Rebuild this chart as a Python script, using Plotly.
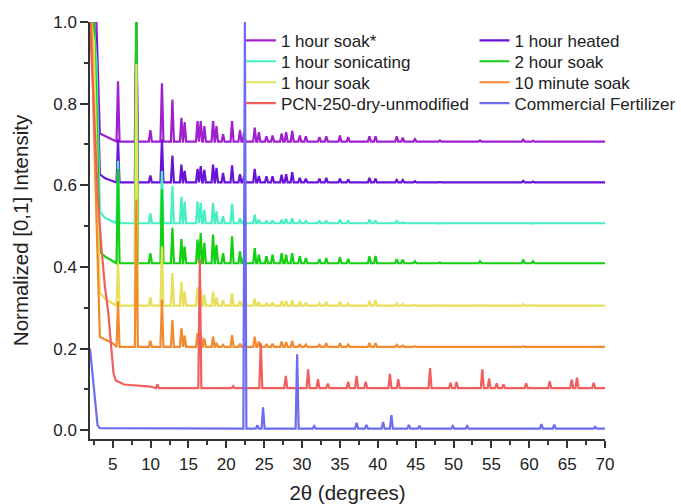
import plotly.graph_objects as go

# ---------------- data ----------------
series_names = ["1 hour soak*", "1 hour heated", "1 hour sonicating", "2 hour soak",
                "1 hour soak", "10 minute soak", "PCN-250-dry-unmodified", "Commercial Fertilizer"]
series_colors = ["#a020d0", "#6a12d8", "#46f0c4", "#12d012",
                 "#e6e05a", "#f28a30", "#f25e5e", "#6c6cf0"]

# shared 2θ positions of the MOF diffraction peaks
mof_peaks = [5.7, 8.12, 9.97, 11.5, 12.88, 14.07, 14.5, 16.2, 16.62, 17.1, 18.25, 18.7,
             19.57, 20.76, 21.8, 22.35, 23.75, 24.3, 25.3, 26.1, 27.3, 27.9, 28.7, 29.7,
             30.5, 32.3, 33.2, 35.0, 36.1, 38.9, 39.7, 42.5, 43.3, 44.9, 48.2, 53.5, 59.2, 60.5]
# low-angle fall-off points (shared 2θ)
mof_left_x = [2.0, 2.2, 2.5, 2.85, 3.3, 4.0, 5.0]

soak_star_left = [1.0, 1.0, 1.0, 1.0, 0.727, 0.72, 0.712]
soak_star_base = 0.707
soak_star_tops = [0.855, 1.0, 0.735, 0.85, 0.81, 0.765, 0.755, 0.757, 0.757, 0.745, 0.757, 0.745,
                  0.725, 0.757, 0.735, 0.73, 0.741, 0.73, 0.72, 0.722, 0.727, 0.73, 0.733, 0.722,
                  0.72, 0.718, 0.72, 0.722, 0.718, 0.72, 0.72, 0.72, 0.717, 0.713, 0.71, 0.71, 0.712, 0.709]

heated_left = [1.0, 1.0, 1.0, 0.95, 0.627, 0.617, 0.61]
heated_base = 0.607
heated_tops = [0.712, 1.0, 0.624, 0.712, 0.673, 0.651, 0.635, 0.64, 0.647, 0.638, 0.651, 0.643,
               0.63, 0.649, 0.627, 0.622, 0.64, 0.623, 0.622, 0.622, 0.626, 0.627, 0.632, 0.618,
               0.616, 0.616, 0.618, 0.616, 0.614, 0.618, 0.616, 0.613, 0.613, 0.61, 0.608, 0.607, 0.611, 0.609]

sonic_left = [1.0, 1.0, 1.0, 0.9, 0.535, 0.52, 0.512]
sonic_base = 0.507
sonic_tops = [0.66, 1.0, 0.531, 0.635, 0.598, 0.572, 0.56, 0.561, 0.557, 0.54, 0.557, 0.536,
              0.524, 0.555, 0.52, 0.516, 0.528, 0.516, 0.512, 0.514, 0.516, 0.518, 0.519, 0.513,
              0.512, 0.512, 0.514, 0.516, 0.512, 0.516, 0.514, 0.512, 0.509, 0.508, 0.506, 0.508, 0.508, 0.506]

two_hr_left = [1.0, 1.0, 1.0, 0.8, 0.437, 0.425, 0.415]
two_hr_base = 0.409
two_hr_tops = [0.64, 1.05, 0.434, 0.59, 0.496, 0.468, 0.45, 0.467, 0.483, 0.459, 0.479, 0.454,
               0.434, 0.475, 0.438, 0.426, 0.446, 0.43, 0.426, 0.43, 0.434, 0.43, 0.434, 0.426,
               0.422, 0.419, 0.422, 0.424, 0.42, 0.426, 0.427, 0.419, 0.418, 0.414, 0.411, 0.414, 0.418, 0.414]

one_hr_left = [1.0, 1.0, 0.95, 0.7, 0.336, 0.322, 0.312]
one_hr_base = 0.305
one_hr_tops = [0.41, 0.897, 0.326, 0.45, 0.385, 0.364, 0.34, 0.35, 0.345, 0.332, 0.34, 0.325,
               0.318, 0.336, 0.316, 0.313, 0.322, 0.314, 0.312, 0.313, 0.316, 0.317, 0.318, 0.315,
               0.312, 0.311, 0.315, 0.315, 0.311, 0.317, 0.318, 0.311, 0.309, 0.307, 0.307, 0.307, 0.309, 0.307]

ten_min_left = [1.0, 1.0, 0.75, 0.5, 0.229, 0.222, 0.213]
ten_min_base = 0.204
ten_min_tops = [0.315, 0.565, 0.219, 0.32, 0.27, 0.25, 0.232, 0.238, 0.238, 0.225, 0.229, 0.214,
                0.209, 0.233, 0.212, 0.21, 0.229, 0.217, 0.211, 0.212, 0.217, 0.216, 0.219, 0.211,
                0.21, 0.209, 0.213, 0.213, 0.21, 0.214, 0.213, 0.209, 0.207, 0.206, 0.205, 0.205, 0.206, 0.205]

pcn_left_x = [2.0, 2.5, 3.05, 3.5, 3.95, 4.4, 4.8, 5.1, 5.4, 6.5, 10.0]
pcn_left_y = [1.0, 0.8, 0.565, 0.45, 0.355, 0.29, 0.2, 0.14, 0.122, 0.112, 0.107]
pcn_base = 0.103
pcn_peaks = [10.9, 16.5, 20.9, 24.55, 27.85, 30.8, 32.1, 33.4, 36.1, 37.2, 38.4, 41.6, 42.7,
             46.9, 49.6, 50.4, 53.8, 54.7, 55.7, 56.6, 59.6, 62.7, 65.6, 66.3, 68.5]
pcn_tops = [0.112, 0.42, 0.108, 0.213, 0.133, 0.149, 0.125, 0.114, 0.119, 0.133, 0.119, 0.138, 0.125,
            0.152, 0.116, 0.118, 0.149, 0.126, 0.115, 0.112, 0.115, 0.12, 0.124, 0.129, 0.116]

fert_left_x = [2.0, 2.5, 3.0, 3.3]
fert_left_y = [0.2, 0.11, 0.012, 0.005]
fert_base = 0.004
fert_peaks = [22.45, 24.1, 24.85, 29.35, 31.6, 37.2, 38.5, 40.7, 41.8, 44.1, 45.5, 49.9, 51.8,
              61.6, 63.3, 68.7]
fert_tops = [1.0, 0.012, 0.056, 0.186, 0.01, 0.018, 0.013, 0.02, 0.037, 0.013, 0.011, 0.01, 0.01,
             0.015, 0.014, 0.008]

x_end = 70.0
PEAK_HW = 0.2


def profile(left_x, left_y, peaks, tops, base):
    xs, ys = list(left_x), list(left_y)
    for p, t in zip(peaks, tops):
        xs += [p - PEAK_HW, p, p + PEAK_HW]
        ys += [base, t, base]
    xs.append(x_end)
    ys.append(base)
    return xs, ys


curves = [
    profile(mof_left_x, soak_star_left, mof_peaks, soak_star_tops, soak_star_base),
    profile(mof_left_x, heated_left, mof_peaks, heated_tops, heated_base),
    profile(mof_left_x, sonic_left, mof_peaks, sonic_tops, sonic_base),
    profile(mof_left_x, two_hr_left, mof_peaks, two_hr_tops, two_hr_base),
    profile(mof_left_x, one_hr_left, mof_peaks, one_hr_tops, one_hr_base),
    profile(mof_left_x, ten_min_left, mof_peaks, ten_min_tops, ten_min_base),
    profile(pcn_left_x, pcn_left_y, pcn_peaks, pcn_tops, pcn_base),
    profile(fert_left_x, fert_left_y, fert_peaks, fert_tops, fert_base),
]

FONT = "Liberation Sans, Arial, sans-serif"
TXT = "#222222"

# legend layout: two columns, four rows (one legend box per entry)
legend_cols_x = [0.293, 0.7466]
legend_rows_y = [0.998, 0.948, 0.8976, 0.8477]

fig = go.Figure()
legend_layout = {}
for i, (name, color, (xs, ys)) in enumerate(zip(series_names, series_colors, curves)):
    key = "legend" if i == 0 else f"legend{i + 1}"
    fig.add_trace(go.Scatter(x=xs, y=ys, mode="lines", name=name, legend=key,
                             line=dict(color=color, width=2.2)))
    legend_layout[key] = dict(
        x=legend_cols_x[i % 2], xanchor="left",
        y=legend_rows_y[i // 2], yanchor="top",
        bgcolor="rgba(0,0,0,0)", borderwidth=0,
        font=dict(family=FONT, size=17, color=TXT), itemwidth=30,
    )

fig.update_layout(
    width=681, height=504,
    margin=dict(l=90, r=76, t=22, b=65, autoexpand=False),
    paper_bgcolor="white", plot_bgcolor="white",
    font=dict(family=FONT, color=TXT, size=17),
    showlegend=True,
    **legend_layout,
)

fig.update_xaxes(
    range=[2.0, 70.0], showgrid=False, zeroline=False,
    showline=True, linecolor="#333333", linewidth=1.5,
    ticks="outside", ticklen=7, tickwidth=1.5, tickcolor="#333333",
    tick0=0, dtick=5, ticklabelstandoff=2, automargin=False,
    minor=dict(ticks="outside", ticklen=4, tickwidth=1.5, tickcolor="#333333", dtick=2.5, tick0=0),
    tickfont=dict(family=FONT, size=17, color=TXT),
    title=dict(text="2θ (degrees)", font=dict(family=FONT, size=20.5, color=TXT), standoff=12),
)
fig.update_yaxes(
    range=[-0.0215, 1.0], showgrid=False, zeroline=False,
    showline=True, linecolor="#333333", linewidth=1.5,
    ticks="outside", ticklen=8, tickwidth=1.5, tickcolor="#333333",
    tick0=0, dtick=0.2, tickformat=".1f", automargin=False,
    minor=dict(ticks="outside", ticklen=4, tickwidth=1.5, tickcolor="#333333", dtick=0.1, tick0=0),
    tickfont=dict(family=FONT, size=17, color=TXT),
    title=dict(text="Normalized [0,1] Intensity", font=dict(family=FONT, size=20.5, color=TXT), standoff=19),
)

fig.write_html("out.html")
